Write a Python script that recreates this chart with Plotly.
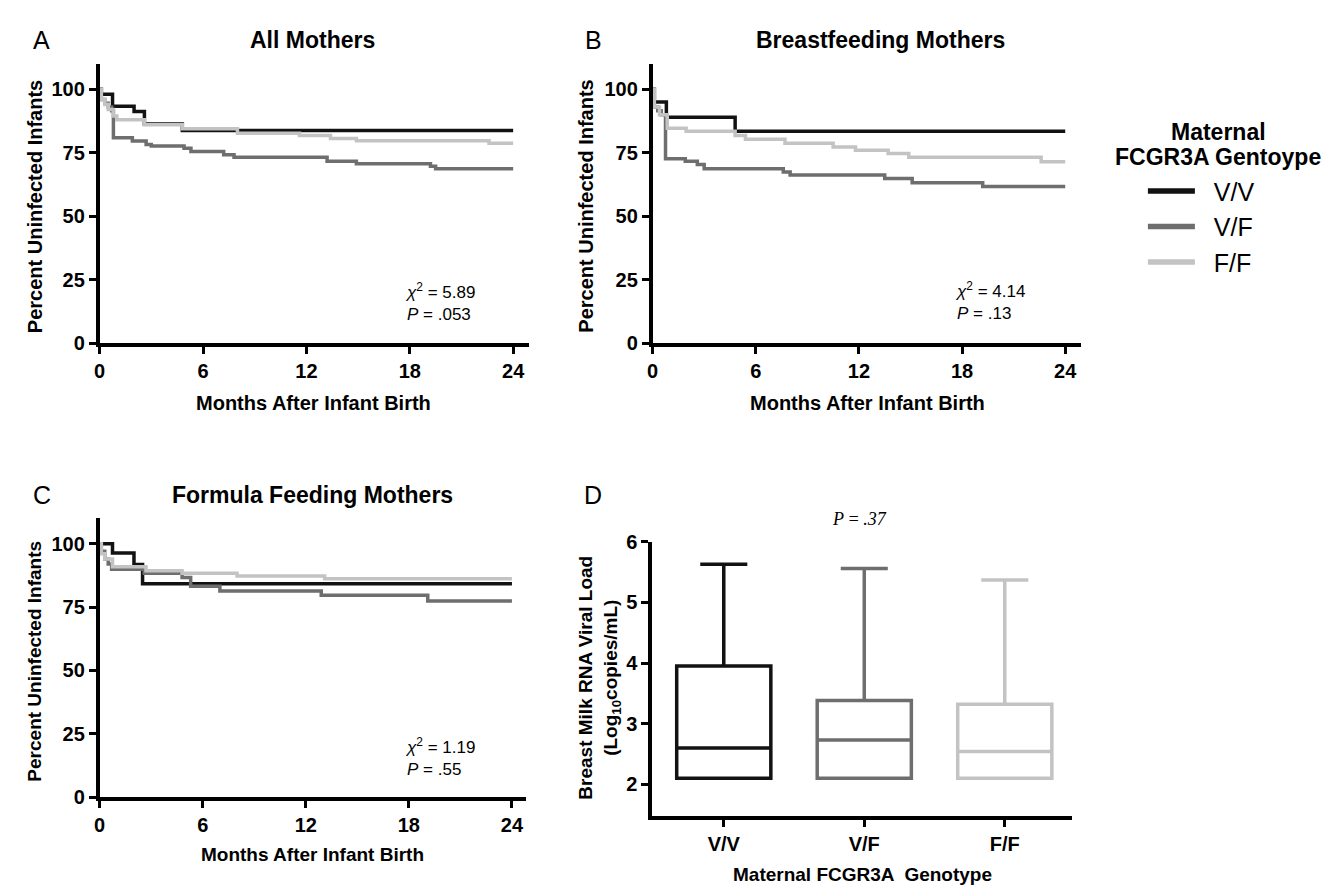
import plotly.graph_objects as go

W, H = 1335, 890
FONT = "Liberation Sans, Arial, sans-serif"

genotypes = ["V/V", "V/F", "F/F"]
colors = ["#121212", "#6e6e6e", "#c3c3c3"]

# Panel A: All mothers (months, percent uninfected)
A_vv_t = [0, 0.1, 0.75, 2.0, 2.6, 4.8, 24]
A_vv_s = [100, 98, 93.3, 91.2, 86.3, 83.8, 83.8]
A_vf_t = [0, 0.1, 0.3, 0.5, 0.7, 0.8, 1.9, 2.7, 3.0, 4.9, 5.3, 7.2, 7.8, 13.2, 14.9, 19.2, 19.5, 24]
A_vf_s = [100, 96, 94.5, 93, 91.5, 80.9, 79.6, 78.3, 77.7, 76.8, 75.5, 74.2, 73.2, 71.7, 70.7, 69.7, 68.7, 68.7]
A_ff_t = [0, 0.1, 0.3, 0.5, 0.8, 1.0, 2.6, 4.8, 8.0, 11.6, 13.4, 14.9, 22.6, 24]
A_ff_s = [100, 96, 94, 92, 89.5, 88, 86, 84.5, 82.7, 81.8, 80.6, 79.7, 78.7, 78.7]

# Panel B: Breastfeeding mothers
B_vv_t = [0, 0.1, 0.8, 4.8, 24]
B_vv_s = [100, 95, 89, 83.5, 83.5]
B_vf_t = [0, 0.1, 0.3, 0.5, 0.75, 1.9, 2.6, 3.0, 7.6, 8.0, 13.5, 15.1, 19.2, 24]
B_vf_s = [100, 93, 91.5, 90, 72.6, 71.7, 70.4, 68.7, 67.4, 66.2, 64.9, 63.2, 61.7, 61.7]
B_ff_t = [0, 0.1, 0.4, 0.85, 1.95, 4.8, 5.4, 7.7, 10.5, 11.8, 13.7, 14.9, 22.6, 24]
B_ff_s = [100, 93, 90, 84.7, 83.5, 81.8, 80.3, 78.7, 77.3, 76, 74.7, 73.2, 71.5, 71.5]

# Panel C: Formula feeding mothers
C_vv_t = [0, 0.75, 2.0, 2.5, 24]
C_vv_s = [100, 96.3, 91.8, 84.2, 84.2]
C_vf_t = [0, 0.1, 0.3, 0.5, 0.7, 2.6, 4.8, 5.3, 7.0, 12.9, 19.1, 24]
C_vf_s = [100, 97, 94, 92, 89.9, 88.3, 86.7, 83.2, 81.3, 79.7, 77.4, 77.4]
C_ff_t = [0, 0.1, 0.3, 0.75, 2.7, 4.8, 8.0, 13.1, 24]
C_ff_s = [100, 96, 94, 90.9, 89.3, 88.3, 87.3, 86.2, 86.2]

# Panel D: breast milk viral load box summaries (log10 copies/mL)
D_q1 = [2.1, 2.1, 2.1]
D_median = [2.6, 2.73, 2.54]
D_q3 = [3.95, 3.38, 3.32]
D_upper = [5.63, 5.56, 5.37]

x_ticks = [0, 6, 12, 18, 24]
y_ticks = [0, 25, 50, 75, 100]
d_ticks = [2, 3, 4, 5, 6]


def px_x(a, b):
    return [a / W, b / W]


def px_y(top, bottom):
    return [1 - bottom / H, 1 - top / H]


fig = go.Figure()

panels = [
    ("x", "y", [(A_vv_t, A_vv_s), (A_vf_t, A_vf_s), (A_ff_t, A_ff_s)]),
    ("x2", "y2", [(B_vv_t, B_vv_s), (B_vf_t, B_vf_s), (B_ff_t, B_ff_s)]),
    ("x3", "y3", [(C_vv_t, C_vv_s), (C_vf_t, C_vf_s), (C_ff_t, C_ff_s)]),
]
for xa, ya, series in panels:
    for (t, s), g, c in zip(series, genotypes, colors):
        fig.add_trace(go.Scatter(
            x=t, y=s, mode="lines", line=dict(color=c, width=3.5, shape="hv"),
            name=g, legendgroup=g, showlegend=False, xaxis=xa, yaxis=ya, hoverinfo="skip"))

# legend entries (thicker line keys as in the reference)
for g, c in zip(genotypes, colors):
    fig.add_trace(go.Scatter(
        x=[None], y=[None], mode="lines", line=dict(color=c, width=5.5),
        name="\u00a0\u00a0" + g, legendgroup=g, showlegend=True, xaxis="x", yaxis="y"))

for i, (g, c) in enumerate(zip(genotypes, colors)):
    fig.add_trace(go.Box(
        x=[i], q1=[D_q1[i]], median=[D_median[i]], q3=[D_q3[i]],
        lowerfence=[D_q1[i]], upperfence=[D_upper[i]],
        line=dict(color=c, width=3.5), fillcolor="white", width=0.67,
        whiskerwidth=0.5, showlegend=False, xaxis="x4", yaxis="y4",
        name=g, hoverinfo="skip"))

axis_common = dict(showline=True, linewidth=3.5, linecolor="black", ticks="outside",
                   ticklen=7, tickwidth=3, tickcolor="black", showgrid=False,
                   zeroline=False, fixedrange=True,
                   tickfont=dict(family=FONT, size=20, color="black", weight="bold"))

fig.update_layout(
    width=W, height=H, margin=dict(l=0, r=0, t=0, b=0),
    paper_bgcolor="white", plot_bgcolor="white", boxmode="overlay",
    xaxis=dict(domain=px_x(86, 517), range=[0, 24.9], tickvals=x_ticks, anchor="y", **axis_common),
    yaxis=dict(domain=px_y(46, 332.5), range=[0, 110], tickvals=y_ticks, anchor="x", **axis_common),
    xaxis2=dict(domain=px_x(641.5, 1071.5), range=[0, 24.9], tickvals=x_ticks, anchor="y2", **axis_common),
    yaxis2=dict(domain=px_y(46, 332.5), range=[0, 110], tickvals=y_ticks, anchor="x2", **axis_common),
    xaxis3=dict(domain=px_x(86, 514), range=[0, 24.8], tickvals=x_ticks, anchor="y3", **axis_common),
    yaxis3=dict(domain=px_y(512, 798), range=[0, 110], tickvals=y_ticks, anchor="x3", **axis_common),
    xaxis4=dict(domain=px_x(641, 1063), range=[-0.51, 2.48], tickvals=[0, 1, 2], ticktext=genotypes,
                anchor="y4", **axis_common),
    yaxis4=dict(domain=px_y(536, 817), range=[1.48, 6.0], tickvals=d_ticks, anchor="x4", **axis_common),
    legend=dict(x=1134 / W, y=1 - 153 / H, xanchor="left", yanchor="top",
                font=dict(family=FONT, size=25, color="black"), bgcolor="rgba(0,0,0,0)",
                itemwidth=47, tracegroupgap=0),
)


def ann(text, x, y, size=20, bold=True, angle=0, xanchor="center", family=FONT, italic=False, align="center"):
    fig.add_annotation(text=text, x=x / W, y=1 - y / H, xref="paper", yref="paper",
                       showarrow=False, textangle=angle, xanchor=xanchor, yanchor="middle",
                       align=align,
                       font=dict(family=family, size=size, color="black",
                                 weight="bold" if bold else "normal",
                                 style="italic" if italic else "normal"))


# Panel letters
ann("A", 28, 22, size=25, bold=False)
ann("B", 582, 22, size=25, bold=False)
ann("C", 28, 488, size=25, bold=False)
ann("D", 582, 488, size=25, bold=False)

# Panel titles
ann("All Mothers", 300, 22, size=23)
ann("Breastfeeding Mothers", 870, 22, size=23)
ann("Formula Feeding Mothers", 300, 488, size=23)

# Axis titles
ann("Months After Infant Birth", 301, 394, size=20)
ann("Months After Infant Birth", 857, 394, size=20)
ann("Months After Infant Birth", 300, 857, size=19)
ann("Maternal FCGR3A  Genotype", 852, 877, size=19)
ann("Percent Uninfected Infants", 21, 192, size=20, angle=-90)
ann("Percent Uninfected Infants", 575, 192, size=20, angle=-90)
ann("Percent Uninfected Infants", 21, 658, size=19, angle=-90)
ann("Breast Milk RNA Viral Load<br>(Log<sub>10</sub>copies/mL)", 588, 675, size=19, angle=-90)

# Statistics
ann("<i>χ</i><sup>2</sup> = 5.89<br><i>P</i> = .053", 391, 290, size=17, bold=False, xanchor="left", align="left")
ann("<i>χ</i><sup>2</sup> = 4.14<br><i>P</i> = .13", 943, 289, size=17, bold=False, xanchor="left", align="left")
ann("<i>χ</i><sup>2</sup> = 1.19<br><i>P</i> = .55", 391, 757, size=17, bold=False, xanchor="left", align="left")
ann("P\u2009=\u2009.37", 849, 513, size=18, bold=False, family="Liberation Serif, Times New Roman, serif", italic=True)

# Legend title
ann("Maternal", 1210, 116, size=23)
ann("FCGR3A Gentoype", 1209, 142, size=23)

fig.write_html("out.html")
